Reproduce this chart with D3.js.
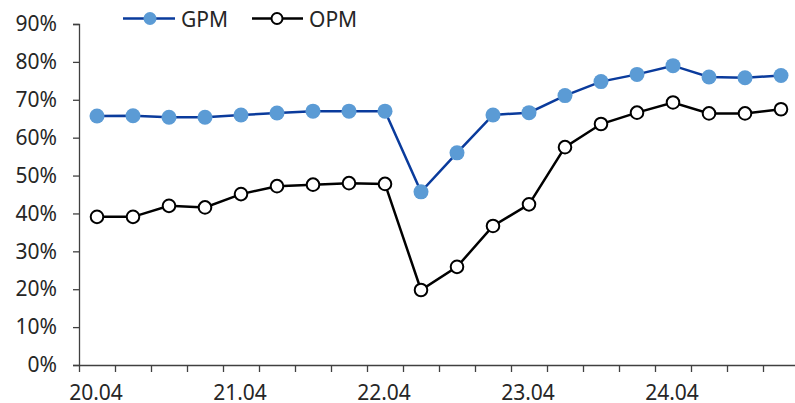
<!DOCTYPE html>
<html>
<head>
<meta charset="utf-8">
<script src="https://cdn.jsdelivr.net/npm/d3@7"></script>
<style>
  body { margin: 0; background: #fff; }
  svg text { font-family: "Noto Sans", "Open Sans", sans-serif; fill: #262626; }
</style>
</head>
<body>
<div id="chart"></div>
<script>
// quarterly labels (only every 4th is shown on the axis)
const quarters = ["20.04","20.07","20.10","21.01","21.04","21.07","21.10","22.01",
                  "22.04","22.07","22.10","23.01","23.04","23.07","23.10","24.01",
                  "24.04","24.07","24.10","25.01"];
const gpm = [65.7,65.8,65.4,65.4,66.0,66.5,67.0,67.0,67.0,45.7,
             56.0,66.0,66.6,71.1,74.8,76.7,79.0,76.0,75.8,76.4];
const opm = [39.1,39.1,42.0,41.6,45.1,47.2,47.6,48.0,47.8,19.8,
             25.9,36.7,42.4,57.5,63.6,66.6,69.3,66.4,66.4,67.5];
const yTicks = [0,10,20,30,40,50,60,70,80,90];
const shownLabels = ["20.04","21.04","22.04","23.04","24.04"];

const w = 795, h = 403;
const svg = d3.select("#chart").append("svg")
  .attr("width", w).attr("height", h);

// band boundaries are the tick marks, points sit in the middle of each quarter
let x = d3.scaleLinear().domain([0, quarters.length]).range([79, 79 + 36*quarters.length]);
let y = d3.scaleLinear().domain([0, 90]).range([365, 24]);
const xc = i => x(i + 0.5);

// y axis
const yAxis = svg.append("g").attr("transform", "translate(79,0)")
  .call(d3.axisLeft(y).tickValues(yTicks).tickSize(6).tickPadding(16)
          .tickFormat(d => d + "%"));
yAxis.select(".domain").attr("stroke", "#404040").attr("stroke-width", 1.3);
yAxis.selectAll(".tick line").attr("stroke", "#404040").attr("stroke-width", 1.3);
yAxis.selectAll("text").style("font-size", "21px").attr("fill", "#262626");

// x axis: ticks at quarter boundaries
const xAxis = svg.append("g").attr("transform", "translate(0,365)")
  .call(d3.axisBottom(x).tickValues(d3.range(0, quarters.length + 1))
          .tickSize(7).tickSizeOuter(0).tickFormat(""));
xAxis.select(".domain").attr("stroke", "#404040").attr("stroke-width", 1.3);
xAxis.selectAll(".tick line").attr("stroke", "#404040").attr("stroke-width", 1.3);

svg.append("g").selectAll("text")
  .data(quarters.map((q, i) => ({q, i})).filter(d => shownLabels.includes(d.q)))
  .enter().append("text")
  .attr("x", d => xc(d.i) - 1)
  .attr("y", 400)
  .attr("text-anchor", "middle")
  .style("font-size", "21px")
  .text(d => d.q);

const line = d3.line().x((d, i) => xc(i)).y(d => y(d));

// GPM series
svg.append("path").datum(gpm)
  .attr("d", line).attr("fill", "none")
  .attr("stroke", "#0a3b9c").attr("stroke-width", 2.5);
svg.append("g").selectAll("circle").data(gpm).enter().append("circle")
  .attr("cx", (d, i) => xc(i)).attr("cy", d => y(d))
  .attr("r", 7.5).attr("fill", "#5b9bd5");

// OPM series
svg.append("path").datum(opm)
  .attr("d", line).attr("fill", "none")
  .attr("stroke", "#000").attr("stroke-width", 2.5);
svg.append("g").selectAll("circle").data(opm).enter().append("circle")
  .attr("cx", (d, i) => xc(i)).attr("cy", d => y(d))
  .attr("r", 6.3).attr("fill", "#fff")
  .attr("stroke", "#000").attr("stroke-width", 2);

// legend
const legend = svg.append("g");
legend.append("line").attr("x1", 123).attr("x2", 175).attr("y1", 18.5).attr("y2", 18.5)
  .attr("stroke", "#0a3b9c").attr("stroke-width", 2.5);
legend.append("circle").attr("cx", 150).attr("cy", 18.5).attr("r", 6.5).attr("fill", "#5b9bd5");
legend.append("text").attr("x", 181).attr("y", 26.5).style("font-size", "21px").text("GPM");

legend.append("line").attr("x1", 252).attr("x2", 303).attr("y1", 18.5).attr("y2", 18.5)
  .attr("stroke", "#000").attr("stroke-width", 2.5);
legend.append("circle").attr("cx", 277).attr("cy", 18.5).attr("r", 5.5)
  .attr("fill", "#fff").attr("stroke", "#000").attr("stroke-width", 2);
legend.append("text").attr("x", 309).attr("y", 26.5).style("font-size", "21px").text("OPM");
</script>
</body>
</html>
